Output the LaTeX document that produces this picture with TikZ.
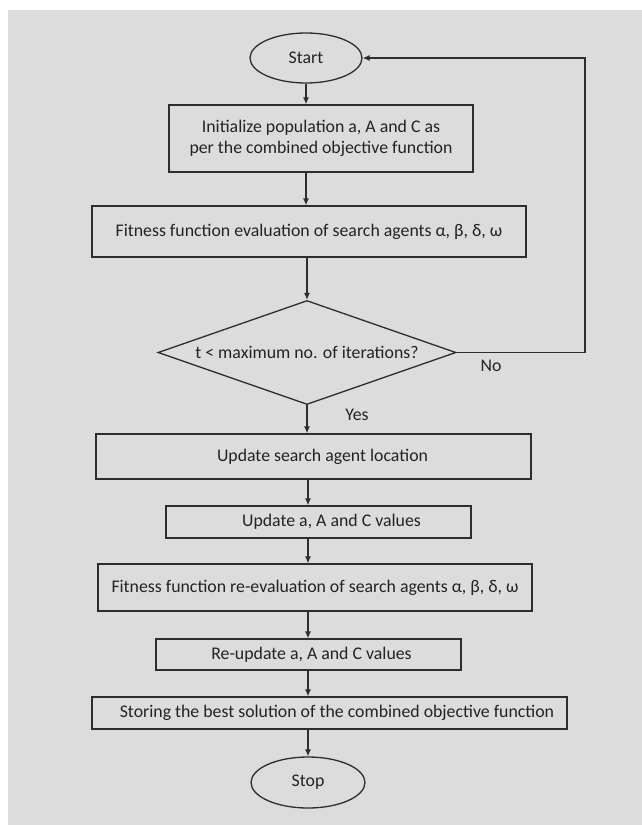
\documentclass[tikz,border=0pt]{standalone}
\usepackage{fontspec}
\setmainfont{Carlito}
\usetikzlibrary{shapes.geometric,arrows.meta}
\definecolor{bg}{RGB}{220,220,220}
\definecolor{ln}{RGB}{45,45,45}
\definecolor{tx}{RGB}{35,35,35}
\begin{document}
\begin{tikzpicture}[x=1pt,y=-1pt,
  every node/.style={font=\fontsize{17.8}{21.5}\selectfont, text=tx},
  box/.style={draw=ln, line width=1.3pt, fill=bg, rectangle, inner sep=0pt, align=center},
  term/.style={draw=ln, line width=1.3pt, fill=bg, ellipse, inner sep=0pt},
  decision/.style={draw=ln, line width=1.3pt, fill=bg, diamond, aspect=2.87, inner sep=0pt},
  lbl/.style={inner sep=0pt},
  arr/.style={draw=ln, line width=1.3pt, -{Latex[length=7pt,width=6pt]}},
  conn/.style={draw=ln, line width=1.3pt}]
\useasboundingbox (0,0) rectangle (642,825);
\fill[white] (0,0) rectangle (642,825);
\fill[bg] (8,10) rectangle (642,825);

\node[term, minimum width=112pt, minimum height=50pt] (start) at (306,58) {Start};
\node[box, minimum width=304pt, minimum height=67pt] (init) at (321,138.5)
  {Initialize population a, A and C as\\per the combined objective function};
\node[box, minimum width=434pt, minimum height=51pt] (fit1) at (309,231.5)
  {Fitness function evaluation of search agents α, β, δ, ω};
\node[decision, minimum width=298pt, minimum height=104pt] (dec) at (307,352.5)
  {t < maximum no. of iterations?};
\node[box, minimum width=435pt, minimum height=45pt] (ul) at (313.5,456.5)
  {\hspace*{18pt}Update search agent location};
\node[box, minimum width=305pt, minimum height=32pt] (ua) at (318.5,522)
  {\hspace*{26pt}Update a, A and C values};
\node[box, minimum width=434pt, minimum height=47pt] (fit2) at (315,587.5)
  {Fitness function re-evaluation of search agents α, β, δ, ω};
\node[box, minimum width=305pt, minimum height=31pt] (ru) at (308.5,654.5)
  {\hspace*{6pt}Re-update a, A and C values};
\node[box, minimum width=475pt, minimum height=32pt] (st) at (329.5,713)
  {\hspace*{15pt}Storing the best solution of the combined objective function};
\node[term, minimum width=114pt, minimum height=51pt] (stop) at (308,782.5) {Stop};

\node[lbl] (no) at (491,366) {No};
\node[lbl] (yes) at (357,415) {Yes};
\coordinate (loop) at (585,58);

\draw[arr] (start.south) -- (start.south |- init.north);
\draw[arr] (init.south -| start) -- (fit1.north -| start);
\draw[arr] (fit1.south -| dec) -- (dec.north);
\draw[arr] (dec.south) -- (dec.south |- ul.north);
\draw[arr] (ul.south -| stop) -- (ua.north -| stop);
\draw[arr] (ua.south -| stop) -- (fit2.north -| stop);
\draw[arr] (fit2.south -| stop) -- (ru.north -| stop);
\draw[arr] (ru.south -| stop) -- (st.north -| stop);
\draw[arr] (st.south -| stop) -- (stop.north);
\draw[arr] (dec.east) -| (loop) -- (start.east);
\end{tikzpicture}
\end{document}
